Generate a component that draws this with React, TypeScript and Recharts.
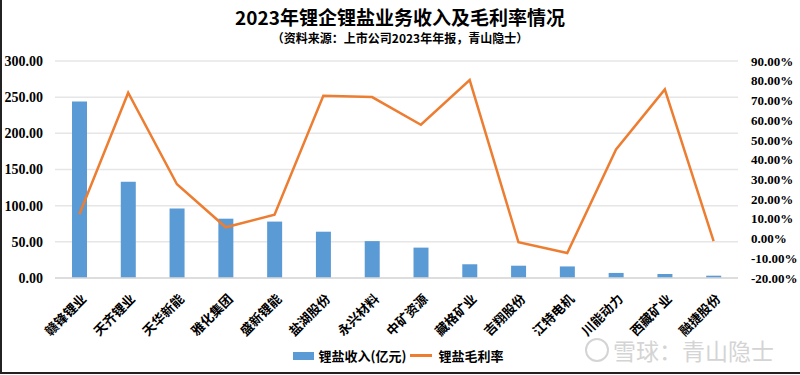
import React from 'react'
import {
  ComposedChart,
  Bar,
  Line,
  XAxis,
  YAxis,
  CartesianGrid,
  Legend,
} from 'recharts'

const companies = [
  '赣锋锂业', '天齐锂业', '天华新能', '雅化集团', '盛新锂能', '盐湖股份', '永兴材料',
  '中矿资源', '藏格矿业', '吉翔股份', '江特电机', '川能动力', '西藏矿业', '融捷股份',
]
// 锂盐收入 (亿元)
const revenue = [244, 133, 96, 82, 78, 64, 51, 42, 19, 17, 16, 7, 5.5, 3.2]
// 锂盐毛利率 (%)
const margin = [12.3, 73.9, 27.5, 5.7, 12.1, 72.4, 71.7, 57.7, 80.3, -1.9, -7.3, 45.2, 75.6, -1.3]

const leftTicks = [0, 50, 100, 150, 200, 250, 300]
const rightTicks = [-20, -10, 0, 10, 20, 30, 40, 50, 60, 70, 80, 90]

const data = companies.map((name, i) => ({ name, revenue: revenue[i], margin: margin[i] }))

const CJK = '"Noto Sans CJK SC", sans-serif'
const NUM = '"Liberation Serif", "Noto Sans CJK SC", serif'
const BLUE = '#5B9BD5'
const ORANGE = '#ED7D31'

// eslint-disable-next-line @typescript-eslint/no-explicit-any
function XTick(props: any) {
  const { x, y, payload } = props
  const ax = x + 4
  const ay = y + 10
  return (
    <text
      x={ax}
      y={ay}
      transform={`rotate(-45, ${ax}, ${ay})`}
      textAnchor="end"
      dominantBaseline="central"
      fontFamily={CJK}
      fontWeight={700}
      fontSize={13}
      fill="#000"
    >
      {payload.value}
    </text>
  )
}

// eslint-disable-next-line @typescript-eslint/no-explicit-any
function LegendContent(props: any) {
  const { payload } = props
  return (
    <div style={{ display: 'flex', justifyContent: 'center', alignItems: 'center', fontFamily: CJK, fontWeight: 700, fontSize: 13, color: '#000' }}>
      {/* eslint-disable-next-line @typescript-eslint/no-explicit-any */}
      {payload.map((p: any) => (
        <div key={p.value} style={{ display: 'flex', alignItems: 'center', marginRight: 4 }}>
          {p.type === 'rect' ? (
            <span style={{ display: 'inline-block', width: 21, height: 8, background: p.color, marginRight: 5 }} />
          ) : (
            <span style={{ display: 'inline-block', width: 22, height: 3, background: p.color, marginRight: 6 }} />
          )}
          <span>{p.value}</span>
        </div>
      ))}
    </div>
  )
}

export default function App() {
  return (
    <div style={{ position: 'fixed', left: 0, top: 0, width: 800, height: 375, background: '#fff' }}>
      <div style={{ position: 'absolute', top: 5, left: 0, width: 800, textAlign: 'center', fontFamily: CJK, fontWeight: 700, fontSize: 19, lineHeight: '24px', color: '#000' }}>
        2023年锂企锂盐业务收入及毛利率情况
      </div>
      <div style={{ position: 'absolute', top: 30, left: 0, width: 800, textAlign: 'center', fontFamily: CJK, fontWeight: 700, fontSize: 12, lineHeight: '16px', color: '#000' }}>
        （资料来源：上市公司2023年年报，青山隐士）
      </div>
      <ComposedChart
        width={800}
        height={375}
        data={data}
        margin={{ top: 61, right: 0, bottom: 0, left: 0 }}
      >
        <CartesianGrid yAxisId="left" vertical={false} stroke="#e6e6e6" strokeWidth={1.5} />
        <XAxis
          dataKey="name"
          height={97}
          interval={0}
          tickLine={false}
          axisLine={{ stroke: '#d9d9d9', strokeWidth: 1.5 }}
          tick={<XTick />}
        />
        <YAxis
          yAxisId="left"
          width={55}
          domain={[0, 300]}
          ticks={leftTicks}
          interval={0}
          tickFormatter={(v: number) => v.toFixed(2)}
          axisLine={false}
          tickLine={false}
          tickMargin={6}
          tick={{ fontSize: 14, fontFamily: NUM, fontWeight: 700, fill: '#000' }}
        />
        <YAxis
          yAxisId="right"
          orientation="right"
          width={62}
          domain={[-20, 90]}
          ticks={rightTicks}
          interval={0}
          tickFormatter={(v: number) => v.toFixed(2) + '%'}
          axisLine={false}
          tickLine={false}
          tickMargin={7}
          tick={{ fontSize: 13, fontFamily: NUM, fontWeight: 700, fill: '#000' }}
        />
        <Legend
          verticalAlign="middle"
          align="center"
          layout="horizontal"
          content={<LegendContent />}
          wrapperStyle={{ top: 346, left: 0, width: 800 }}
        />
        <Bar
          yAxisId="left"
          dataKey="revenue"
          name="锂盐收入(亿元)"
          fill={BLUE}
          barSize={15}
          legendType="rect"
          isAnimationActive={false}
        />
        <Line
          yAxisId="right"
          type="linear"
          dataKey="margin"
          name="锂盐毛利率"
          stroke={ORANGE}
          strokeWidth={2.5}
          dot={false}
          legendType="line"
          isAnimationActive={false}
        />
      </ComposedChart>
      <div style={{ position: 'absolute', left: 585, top: 338, width: 24, height: 24, borderRadius: '50%', border: '2px solid #d4d4d4', boxSizing: 'border-box' }} />
      <div style={{ position: 'absolute', left: 613, top: 335, fontFamily: CJK, fontSize: 23, lineHeight: '30px', color: '#d4d4d4' }}>
        雪球：青山隐士
      </div>
      <div style={{ position: 'absolute', left: 0, top: 0, width: 798, height: 372, borderLeft: '2px solid #222', borderRight: '2px solid #222', borderBottom: '2px solid #222', pointerEvents: 'none' }} />
    </div>
  )
}
